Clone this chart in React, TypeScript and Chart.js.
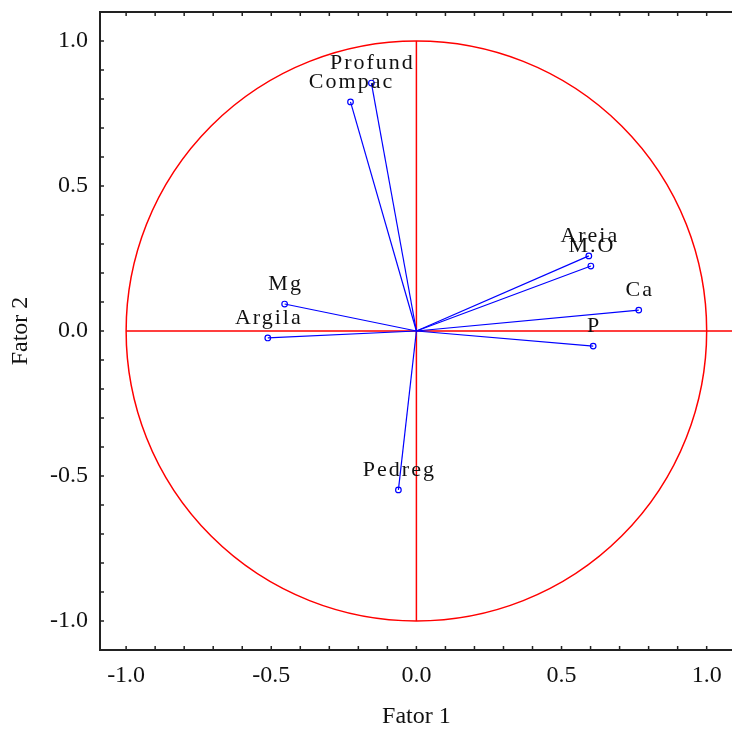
import React, { useEffect, useRef } from "react";
import { Chart, registerables } from "chart.js";

Chart.register(...registerables);

const variables = ["Profund", "Compac", "Mg", "Argila", "Pedreg", "Areia", "M.O", "Ca", "P"];
const fator1 = [-0.155, -0.227, -0.454, -0.512, -0.062, 0.594, 0.601, 0.766, 0.609];
const fator2 = [0.855, 0.79, 0.093, -0.024, -0.548, 0.259, 0.224, 0.072, -0.052];
const labelTicks = [-1.0, -0.5, 0.0, 0.5, 1.0];
const minorTicks = [-1.0, -0.9, -0.8, -0.7, -0.6, -0.5, -0.4, -0.3, -0.2, -0.1, 0.0, 0.1, 0.2, 0.3, 0.4, 0.5, 0.6, 0.7, 0.8, 0.9, 1.0];

const FONT = "'Liberation Serif', 'Times New Roman', serif";

const framePlugin = {
  id: "frame",
  beforeDatasetsDraw(chart: any) {
    const { ctx, chartArea, scales } = chart;
    const xs = scales.x;
    const ys = scales.y;
    ctx.save();
    ctx.beginPath();
    ctx.rect(chartArea.left, chartArea.top, chartArea.right - chartArea.left, chartArea.bottom - chartArea.top);
    ctx.clip();
    ctx.strokeStyle = "#ff0000";
    ctx.lineWidth = 1.5;
    const cx = xs.getPixelForValue(0);
    const cy = ys.getPixelForValue(0);
    const rx = xs.getPixelForValue(1) - cx;
    const ry = cy - ys.getPixelForValue(1);
    ctx.beginPath();
    ctx.ellipse(cx, cy, rx, ry, 0, 0, Math.PI * 2);
    ctx.stroke();
    ctx.beginPath();
    ctx.moveTo(xs.getPixelForValue(-1), cy);
    ctx.lineTo(chartArea.right + 5, cy);
    ctx.moveTo(cx, ys.getPixelForValue(1));
    ctx.lineTo(cx, ys.getPixelForValue(-1));
    ctx.stroke();
    ctx.restore();
  },
  afterDatasetsDraw(chart: any) {
    const { ctx, chartArea, scales } = chart;
    const xs = scales.x;
    const ys = scales.y;
    ctx.save();
    ctx.fillStyle = "#111";
    ctx.font = `22px ${FONT}`;
    try {
      (ctx as any).letterSpacing = "2px";
    } catch (e) {}
    ctx.textAlign = "center";
    ctx.textBaseline = "middle";
    variables.forEach((name, i) => {
      const px = xs.getPixelForValue(fator1[i]);
      const py = ys.getPixelForValue(fator2[i]);
      ctx.fillText(name, px + 1, py - 20);
    });
    try {
      (ctx as any).letterSpacing = "0px";
    } catch (e) {}
    ctx.strokeStyle = "#222";
    ctx.lineWidth = 2;
    ctx.beginPath();
    ctx.moveTo(chartArea.right + 2, chartArea.top);
    ctx.lineTo(chartArea.left, chartArea.top);
    ctx.lineTo(chartArea.left, chartArea.bottom);
    ctx.lineTo(chartArea.right + 2, chartArea.bottom);
    ctx.stroke();
    ctx.lineWidth = 1.5;
    ctx.beginPath();
    minorTicks.forEach((v) => {
      const px = xs.getPixelForValue(v);
      ctx.moveTo(px, chartArea.bottom);
      ctx.lineTo(px, chartArea.bottom - 4);
      ctx.moveTo(px, chartArea.top);
      ctx.lineTo(px, chartArea.top + 4);
      const py = ys.getPixelForValue(v);
      ctx.moveTo(chartArea.left, py);
      ctx.lineTo(chartArea.left + 4, py);
    });
    ctx.stroke();
    ctx.restore();
  },
};

export default function App() {
  const ref = useRef<HTMLCanvasElement | null>(null);
  useEffect(() => {
    if (!ref.current) return;
    const datasets = variables.map((name, i) => ({
      label: name,
      data: [
        { x: 0, y: 0 },
        { x: fator1[i], y: fator2[i] },
      ],
      showLine: true,
      borderColor: "#0000ff",
      borderWidth: 1.2,
      pointRadius: [0, 2.8],
      pointBorderColor: "#0000ff",
      pointBackgroundColor: "rgba(0,0,0,0)",
      pointBorderWidth: 1.2,
    }));
    const chart = new Chart(ref.current, {
      type: "scatter",
      data: { datasets },
      options: {
        animation: false,
        responsive: false,
        layout: { padding: { top: 0, right: 0, left: 0, bottom: 0 } },
        plugins: { legend: { display: false }, tooltip: { enabled: false } },
        scales: {
          x: {
            type: "linear",
            min: -1.09,
            max: 1.09,
            afterBuildTicks: (scale: any) => {
              scale.ticks = labelTicks.map((v) => ({ value: v }));
            },
            afterFit: (scale: any) => {
              scale.height = 81;
              scale.paddingRight = 0;
              scale.paddingLeft = 0;
            },
            grid: { display: false },
            border: { display: false },
            ticks: {
              color: "#111",
              font: { family: FONT, size: 24 },
              padding: 3,
              maxRotation: 0,
              autoSkip: false,
              callback: (v: any) => Number(v).toFixed(1),
            },
            title: {
              display: true,
              text: "Fator 1",
              color: "#111",
              font: { family: FONT, size: 24 },
              padding: { top: 0, bottom: 0 },
            },
          },
          y: {
            type: "linear",
            min: -1.1,
            max: 1.1,
            afterBuildTicks: (scale: any) => {
              scale.ticks = labelTicks.map((v) => ({ value: v }));
            },
            afterFit: (scale: any) => {
              scale.width = 100;
              scale.paddingTop = 12;
              scale.paddingBottom = 0;
            },
            grid: { display: false },
            border: { display: false },
            ticks: {
              color: "#111",
              font: { family: FONT, size: 24 },
              padding: 4,
              autoSkip: false,
              callback: (v: any) => Number(v).toFixed(1),
            },
            title: {
              display: true,
              text: "Fator 2",
              color: "#111",
              font: { family: FONT, size: 24 },
              padding: { top: 6, bottom: 0 },
            },
          },
        },
      },
      plugins: [framePlugin],
    } as any);
    return () => chart.destroy();
  }, []);
  return (
    <div style={{ position: "absolute", left: 0, top: 0, width: 732, height: 731, overflow: "hidden", background: "#fff" }}>
      <canvas ref={ref} width={738} height={731} style={{ display: "block" }} />
    </div>
  );
}
